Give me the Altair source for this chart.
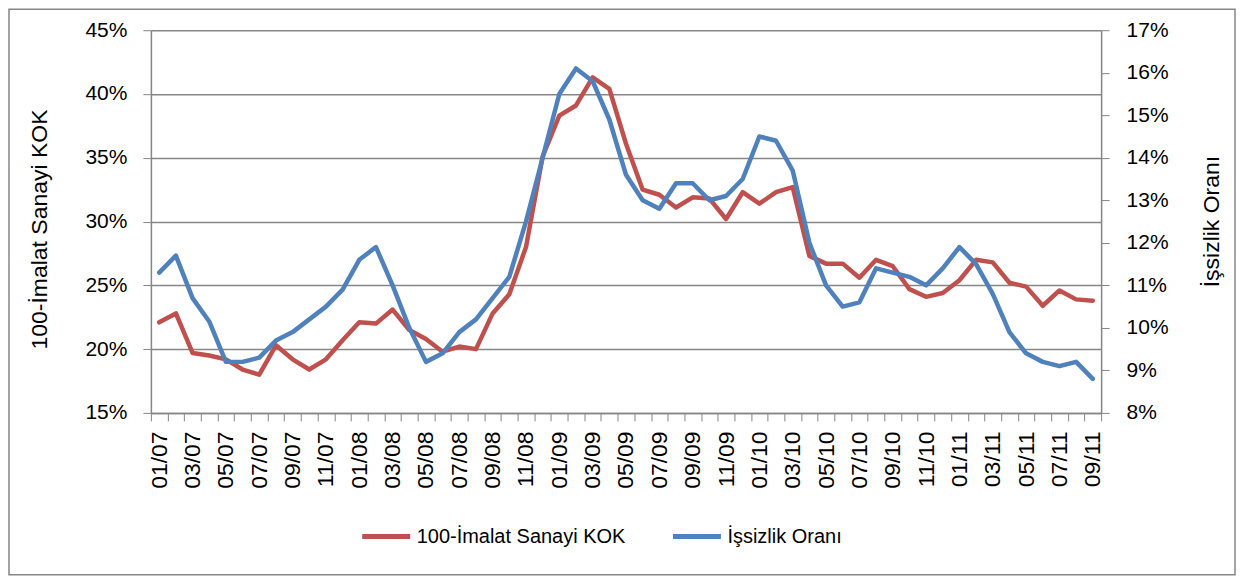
import altair as alt
import pandas as pd

months = [f"{m:02d}/{y:02d}" for y in range(7, 12) for m in range(1, 13)][:57]

imalat_kok = [22.1, 22.8, 19.7, 19.5, 19.2, 18.4, 18.0, 20.3, 19.2, 18.4, 19.2, 20.7,
              22.1, 22.0, 23.1, 21.5, 20.8, 19.8, 20.2, 20.0, 22.8, 24.3, 28.0, 35.1,
              38.3, 39.1, 41.3, 40.4, 36.1, 32.5, 32.1, 31.1, 31.9, 31.8, 30.2, 32.3,
              31.4, 32.3, 32.7, 27.3, 26.7, 26.7, 25.6, 27.0, 26.5, 24.7, 24.1, 24.4,
              25.4, 27.0, 26.8, 25.2, 24.9, 23.4, 24.6, 23.9, 23.8]

issizlik = [11.3, 11.7, 10.7, 10.15, 9.2, 9.2, 9.3, 9.7, 9.9, 10.2, 10.5, 10.9,
            11.6, 11.9, 11.0, 10.0, 9.2, 9.4, 9.9, 10.2, 10.7, 11.2, 12.5, 14.0,
            15.5, 16.1, 15.8, 14.9, 13.6, 13.0, 12.8, 13.4, 13.4, 13.0, 13.1, 13.5,
            14.5, 14.4, 13.7, 12.0, 11.0, 10.5, 10.6, 11.4, 11.3, 11.2, 11.0, 11.4,
            11.9, 11.5, 10.8, 9.9, 9.4, 9.2, 9.1, 9.2, 8.8]

series_names = ["100-İmalat Sanayi KOK", "İşsizlik Oranı"]
series_colors = ["#C0504D", "#4F81BD"]

left_ticks = [round(v / 100, 2) for v in range(15, 46, 5)]
right_ticks = [round(v / 100, 2) for v in range(8, 18)]

df = pd.DataFrame({
    "month": months,
    "imalat": [v / 100 for v in imalat_kok],
    "issizlik": [v / 100 for v in issizlik],
})

FONT = "Liberation Sans"
GRID = "#868686"

color_scale = alt.Scale(domain=series_names, range=series_colors)

x_enc = alt.X(
    "month:N",
    sort=months,
    scale=alt.Scale(type="band", paddingInner=0, paddingOuter=0),
    axis=alt.Axis(
        title=None,
        labelAngle=-90,
        labelFontSize=23,
        labelFont=FONT,
        labelColor="black",
        labelPadding=10,
        tickBand="extent",
        tickSize=8,
        tickColor=GRID,
        domainColor=GRID,
        domainWidth=1.5,
        labelExpr="parseInt(substring(datum.label,0,2)) % 2 == 1 ? datum.label : ''",
        grid=False,
    ),
)

base = alt.Chart(df)

red = base.transform_calculate(series=f"'{series_names[0]}'").mark_line(
    strokeWidth=4.5, strokeJoin="round", strokeCap="round"
).encode(
    x=x_enc,
    y=alt.Y(
        "imalat:Q",
        scale=alt.Scale(domain=[0.15, 0.45], nice=False, zero=False),
        axis=alt.Axis(
            title="100-İmalat Sanayi KOK",
            values=left_ticks,
            format=".0%",
            orient="left",
            grid=True,
            gridColor=GRID,
            gridWidth=1.5,
            tickSize=8,
            tickColor=GRID,
            domainColor=GRID,
            domainWidth=1.5,
            labelFontSize=21,
            labelFont=FONT,
            labelColor="black",
            labelPadding=16,
            titleFontSize=23,
            titleFont=FONT,
            titleFontWeight="normal",
            titleColor="black",
            titleAngle=270,
            titleX=-111,
            titleY=199,
            titleAlign="center",
            titleBaseline="middle",
        ),
    ),
    color=alt.Color(
        "series:N",
        scale=color_scale,
        legend=alt.Legend(
            title=None,
            orient="none",
            legendX=209,
            legendY=480,
            direction="horizontal",
            symbolType="stroke",
            symbolStrokeWidth=5,
            symbolSize=2304,
            labelFontSize=20,
            labelFont=FONT,
            labelColor="black",
            labelLimit=0,
            labelOffset=4,
            columnPadding=37,
            padding=0,
        ),
    ),
)

blue = base.transform_calculate(series=f"'{series_names[1]}'").mark_line(
    strokeWidth=4.5, strokeJoin="round", strokeCap="round"
).encode(
    x=x_enc,
    y=alt.Y(
        "issizlik:Q",
        scale=alt.Scale(domain=[0.08, 0.17], nice=False, zero=False),
        axis=alt.Axis(
            title="İşsizlik Oranı",
            values=right_ticks,
            format=".0%",
            orient="right",
            grid=False,
            tickSize=8,
            tickColor=GRID,
            domainColor=GRID,
            domainWidth=1.5,
            labelFontSize=21,
            labelFont=FONT,
            labelColor="black",
            labelPadding=17,
            titleFontSize=23,
            titleFont=FONT,
            titleFontWeight="normal",
            titleColor="black",
            titleAngle=270,
            titleX=110,
            titleY=191,
            titleAlign="center",
            titleBaseline="middle",
        ),
    ),
    color=alt.Color("series:N", scale=color_scale),
)

frame = alt.Chart(alt.Data(values=[{}])).mark_rect(
    filled=False, stroke=GRID, strokeWidth=1.5
).encode(
    x=alt.value(-142),
    x2=alt.value(1085),
    y=alt.value(-21),
    y2=alt.value(545),
)

chart = (
    alt.layer(red, blue, frame)
    .resolve_scale(y="independent")
    .properties(
        width=951,
        height=383,
        autosize=alt.AutoSizeParams(type="none"),
        padding={"left": 143, "top": 22, "right": 136, "bottom": 163},
        background="white",
    )
    .configure_view(stroke=None)
)

chart.save("out.html", embed_options={"renderer": "svg", "actions": False})
